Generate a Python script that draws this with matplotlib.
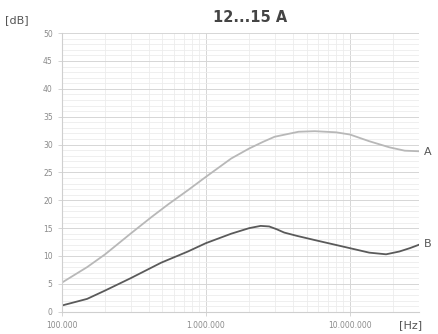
import matplotlib
matplotlib.use("Agg")
import matplotlib.pyplot as plt
import matplotlib.ticker as mticker

# Dados
freq_a = [1e5, 1.5e5, 2e5, 3e5, 4.2e5, 5.5e5, 7.5e5, 1e6, 1.5e6, 2e6, 2.5e6, 3e6, 4.4e6, 5.7e6, 8e6, 1e7, 1.36e7, 1.88e7, 2.4e7, 3e7]
db_a = [5.2, 8.0, 10.3, 14.0, 17.0, 19.3, 21.8, 24.2, 27.5, 29.3, 30.5, 31.4, 32.3, 32.4, 32.2, 31.8, 30.6, 29.5, 28.9, 28.8]

freq_b = [1e5, 1.5e5, 2e5, 3e5, 4.9e5, 7.5e5, 1e6, 1.5e6, 2e6, 2.4e6, 2.75e6, 3.1e6, 3.5e6, 4.3e6, 5.6e6, 1e7, 1.36e7, 1.78e7, 2.2e7, 2.6e7, 3e7]
db_b = [1.1, 2.3, 3.8, 6.0, 8.8, 10.8, 12.3, 14.0, 15.0, 15.4, 15.3, 14.8, 14.2, 13.6, 12.9, 11.4, 10.6, 10.3, 10.8, 11.4, 12.0]

x_ticks = [1e5, 1e6, 1e7]
x_labels = ["100.000", "1.000.000", "10.000.000"]
y_ticks = list(range(0, 55, 5))

fig = plt.figure(figsize=(4.38, 3.34), dpi=100)
ax = fig.add_axes([0.141, 0.0668, 0.815, 0.834])

ax.plot(freq_a, db_a, color="#b8b8b8", lw=1.3, solid_joinstyle="round")
ax.plot(freq_b, db_b, color="#5a5a5a", lw=1.3, solid_joinstyle="round")

ax.set_xscale("log")
ax.set_xlim(1e5, 3e7)
ax.set_ylim(0, 50)

ax.set_xticks(x_ticks)
ax.set_xticklabels(x_labels)
ax.xaxis.set_minor_locator(mticker.LogLocator(base=10, subs=range(2, 10)))
ax.xaxis.set_minor_formatter(mticker.NullFormatter())
ax.set_yticks(y_ticks)
ax.yaxis.set_minor_locator(mticker.MultipleLocator(1))

ax.grid(True, which="major", color="#d6d6d6", lw=0.7)
ax.grid(True, which="minor", color="#ececec", lw=0.6)
ax.set_axisbelow(True)

for s in ["top", "right"]:
    ax.spines[s].set_visible(False)
ax.spines["left"].set_color("#cfcfcf")
ax.spines["bottom"].set_color("#cfcfcf")
ax.tick_params(which="major", length=3, width=0.6, color="#cfcfcf", labelsize=5.5, labelcolor="#8a8a8a")
ax.tick_params(which="minor", length=0)
ax.tick_params(axis="x", pad=4)

# Rótulos das curvas
fig.text(0.968, 1 - 152 / 334, "A", ha="left", va="center", fontsize=8, color="#555555")
fig.text(0.968, 1 - 244 / 334, "B", ha="left", va="center", fontsize=8, color="#555555")

fig.text(0.572, 1 - 17 / 334, "12...15 A", ha="center", va="center", fontsize=10.5,
         fontweight="bold", color="#444444")
fig.text(0.012, 1 - 20 / 334, "[dB]", ha="left", va="center", fontsize=8, color="#555555")
fig.text(0.91, 1 - 325 / 334, "[Hz]", ha="left", va="center", fontsize=8, color="#555555")

plt.savefig("out.png", dpi=100)
plt.close(fig)
